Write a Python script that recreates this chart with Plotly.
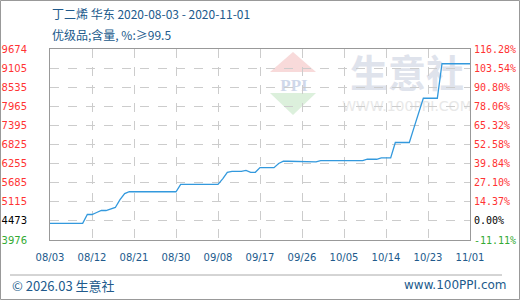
import plotly.graph_objects as go
import datetime as dt

# ---------------- data ----------------
start_date = "2020-08-03"
prices = [
    4473, 4473, 4473, 4473, 4473, 4473, 4473, 4473,   # 08/03-08/10
    4736, 4736, 4796, 4856, 4856, 4896, 4946,         # 08/11-08/17
    5180, 5360,                                       # 08/18-08/19
    5415, 5415, 5415, 5415, 5415, 5415, 5415, 5415, 5415, 5415, 5415,  # 08/20-08/30
    5635, 5635, 5635, 5635, 5635, 5635, 5635, 5635, 5635,  # 08/31-09/08
    5800, 5995, 6025, 6025, 6025, 6055, 5995, 5995,   # 09/09-09/16
    6135, 6135, 6135, 6135, 6260, 6325, 6325, 6325, 6325, 6325,  # 09/17-09/26
    6305, 6305, 6305,                                 # 09/27-09/29
    6345, 6345, 6345, 6345, 6345, 6345, 6345, 6345, 6345, 6345,  # 09/30-10/09
    6385, 6385, 6385,                                 # 10/10-10/12
    6425, 6425, 6425,                                 # 10/13-10/15
    6885, 6885, 6885, 6885,                           # 10/16-10/19
    7330, 7770, 8205, 8205, 8205, 8205,               # 10/20-10/25
    9234, 9234, 9234, 9234, 9234, 9234, 9234,         # 10/26-11/01
]
x_tick_labels = ["08/03", "08/12", "08/21", "08/30", "09/08", "09/17",
                 "09/26", "10/05", "10/14", "10/23", "11/01"]
y_left_labels = ["3976", "4473", "5115", "5685", "6255", "6825",
                 "7395", "7965", "8535", "9105", "9674"]
y_right_labels = ["-11.11%", "0.00%", "14.37%", "27.10%", "39.84%", "52.58%",
                  "65.32%", "78.06%", "90.80%", "103.54%", "116.28%"]
y_min, y_max = 3976, 9674
title_line1 = "丁二烯 华东 2020-08-03 - 2020-11-01"
title_line2 = "优级品;含量, %:≥99.5"
footer_left = "© 2026.03 生意社"
footer_right = "www.100PPI.com"

# ---------------- derived ----------------
d0 = dt.date.fromisoformat(start_date)
dates = [d0 + dt.timedelta(days=i) for i in range(len(prices))]
tick_dates = [d0 + dt.timedelta(days=9 * i) for i in range(len(x_tick_labels))]
step = (y_max - y_min) / 10
y_ticks = [y_min + step * k for k in range(11)]


def lbl_color(i):
    if i == 0:
        return "#33aa33"
    if i == 1:
        return "#000000"
    return "#ff3333"


left_text = [f"<span style='color:{lbl_color(i)}'>{t}</span>" for i, t in enumerate(y_left_labels)]
right_text = [f"<span style='color:{lbl_color(i)}'>{t}</span>" for i, t in enumerate(y_right_labels)]

W, H = 520, 300
L, R, T, B = 50, 50, 49, 60
PW, PH = W - L - R, H - T - B


def px(x):
    return (x - L) / PW


def py(y):
    return (H - B - y) / PH


blue = "#215a8c"

fig = go.Figure()
fig.add_trace(go.Scatter(x=dates, y=prices, mode="lines",
                         line=dict(color="#3399dd", width=1.3),
                         hoverinfo="skip", showlegend=False))
# invisible trace for right axis
fig.add_trace(go.Scatter(x=[dates[0]], y=[y_min], yaxis="y2", mode="lines",
                         line=dict(width=0), hoverinfo="skip", showlegend=False))

grid = dict(showgrid=True, gridcolor="#cccccc", griddash="dash", gridwidth=1)

fig.update_layout(
    width=W, height=H,
    margin=dict(l=L, r=R, t=T, b=B, autoexpand=False),
    paper_bgcolor="white", plot_bgcolor="white",
    xaxis=dict(range=[d0, tick_dates[-1]], tickmode="array", tickvals=tick_dates,
               ticktext=x_tick_labels, ticks="", showline=True, linecolor="#999999",
               linewidth=1, mirror=True, zeroline=False, automargin=False,
               tickfont=dict(family="DejaVu Sans", size=10, color=blue),
               ticklabelstandoff=8, **grid),
    yaxis=dict(range=[y_min, y_max], tickmode="array", tickvals=y_ticks,
               ticktext=left_text, ticks="", showline=True, linecolor="#999999",
               linewidth=1, mirror=True, zeroline=False, automargin=False,
               tickfont=dict(family="DejaVu Sans", size=10),
               ticklabelstandoff=20, **grid),
    yaxis2=dict(range=[y_min, y_max], overlaying="y", side="right",
                tickmode="array", tickvals=y_ticks, ticktext=right_text,
                ticks="", showgrid=False, zeroline=False, showline=False,
                automargin=False,
                tickfont=dict(family="DejaVu Sans Mono", size=10),
                ticklabelstandoff=3),
)

shapes = []
# outer border
shapes.append(dict(type="rect", xref="paper", yref="paper",
                   x0=px(0.5), x1=px(W - 0.5), y0=py(0.5), y1=py(H - 0.5),
                   line=dict(color="#999999", width=1), layer="below"))
# footer separator
shapes.append(dict(type="line", xref="paper", yref="paper",
                   x0=px(10), x1=px(502), y0=py(275), y1=py(275),
                   line=dict(color="#aaaaaa", width=1), layer="below"))


def path(points):
    return "M " + " L ".join(f"{px(a)},{py(b)}" for a, b in points) + " Z"


# watermark triangles
shapes.append(dict(type="path", xref="paper", yref="paper",
                   path=path([(293, 52), (316, 72), (270, 72)]),
                   fillcolor="#f8dada", line=dict(width=0), layer="below"))
shapes.append(dict(type="path", xref="paper", yref="paper",
                   path=path([(270, 93), (316, 93), (293, 115)]),
                   fillcolor="#dcf0dc", line=dict(width=0), layer="below"))
# watermark texts as shape labels (drawn below traces)
for txt, x0, x1, y0, y1, size, col, fam, wt in [
    ("PPI", 270, 318, 74, 92, 17, "#cfd8ea", "Liberation Serif", "bold"),
    ("生意社", 342, 472, 56, 96, 38, "#dfe3ec", "Noto Sans CJK SC", "bold"),
    ("WWW.100PPI.COM", 342, 472, 98, 112, 14, "#e8e8e8", "DejaVu Sans", "normal"),
]:
    shapes.append(dict(type="rect", xref="paper", yref="paper",
                       x0=px(x0), x1=px(x1), y0=py(y1), y1=py(y0),
                       line=dict(width=0), fillcolor="rgba(0,0,0,0)", layer="below",
                       label=dict(text=txt, font=dict(size=size, color=col, family=fam,
                                                      weight=wt))))
fig.update_layout(shapes=shapes)

ann = []
ann.append(dict(text=title_line1, x=px(50), y=py(14), xref="paper", yref="paper",
                xanchor="left", yanchor="middle", showarrow=False,
                font=dict(family="Noto Sans CJK SC", size=12, color=blue)))
ann.append(dict(text=title_line2, x=px(50), y=py(34), xref="paper", yref="paper",
                xanchor="left", yanchor="middle", showarrow=False,
                font=dict(family="Noto Sans CJK SC", size=12, color=blue)))
ann.append(dict(text=footer_left, x=px(10), y=py(285), xref="paper", yref="paper",
                xanchor="left", yanchor="middle", showarrow=False,
                font=dict(family="Noto Sans CJK SC", size=13, color=blue)))
ann.append(dict(text=footer_right, x=px(509), y=py(285), xref="paper", yref="paper",
                xanchor="right", yanchor="middle", showarrow=False,
                font=dict(family="DejaVu Sans", size=12, color=blue)))
fig.update_layout(annotations=ann)

fig.write_html("out.html")
